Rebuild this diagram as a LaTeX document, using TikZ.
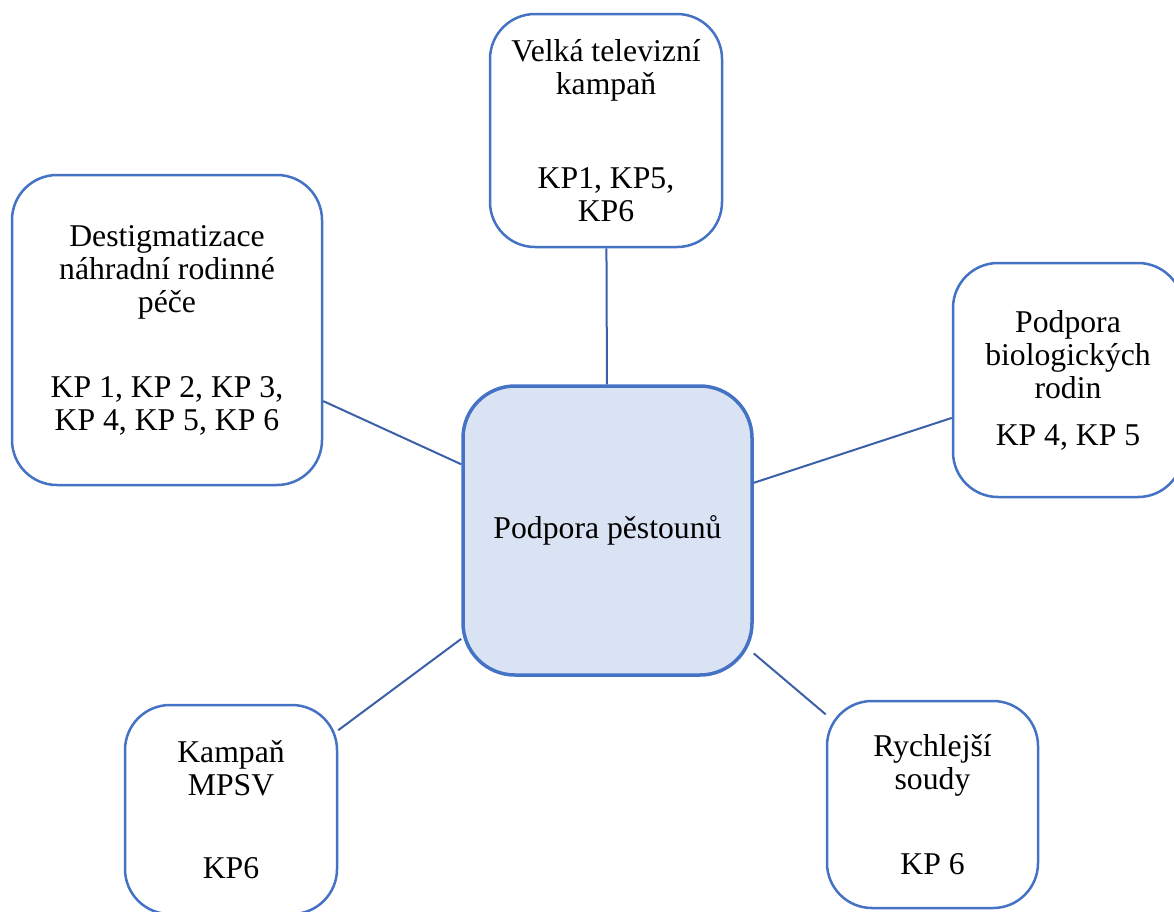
\documentclass[tikz,border=0pt]{standalone}
\usepackage{fontspec}
\setmainfont{Liberation Serif}
\definecolor{boxblue}{HTML}{4472C4}
\definecolor{linkblue}{HTML}{3B60A8}
\definecolor{corefill}{HTML}{DAE3F3}

\begin{document}
\begin{tikzpicture}[x=1pt,y=-1pt,
	card/.style={draw=boxblue, line width=2.5pt, rounded corners=45pt, align=center,
		inner sep=0pt, font=\fontsize{31.7}{33}\selectfont},
	core/.style={card, fill=corefill, line width=3.5pt, rounded corners=52pt},
	link/.style={draw=linkblue, line width=2pt}]
	\useasboundingbox (0,0) rectangle (1174,911);

	\node[core, minimum width=289pt, minimum height=289pt] (pest) at (607.5,530.5) {Podpora pěstounů};

	\node[card, minimum width=232pt, minimum height=233pt] (tv) at (606,130.5)
		{Velká televizní\\kampaň\\[61pt]KP1, KP5,\\KP6};
	\node[card, minimum width=310pt, minimum height=310pt] (destig) at (167,330)
		{Destigmatizace\\náhradní rodinné\\péče\\[52pt]KP 1, KP 2, KP 3,\\KP 4, KP 5, KP 6};
	\node[card, minimum width=230pt, minimum height=234pt] (biol) at (1068,380)
		{Podpora\\biologických\\rodin\\[14pt]KP 4, KP 5};
	\node[card, minimum width=212pt, minimum height=209pt] (mpsv) at (231,809.5)
		{Kampaň\\MPSV\\[50pt]KP6};
	\node[card, minimum width=211pt, minimum height=207pt] (soudy) at (932.5,804.5)
		{Rychlejší\\soudy\\[52pt]KP 6};

	\draw[link] (tv) -- (pest);
	\draw[link] (destig) -- (pest);
	\draw[link] (biol) -- (pest);
	\draw[link] (mpsv) -- (pest);
	\draw[link] (soudy) -- (pest);
\end{tikzpicture}
\end{document}
